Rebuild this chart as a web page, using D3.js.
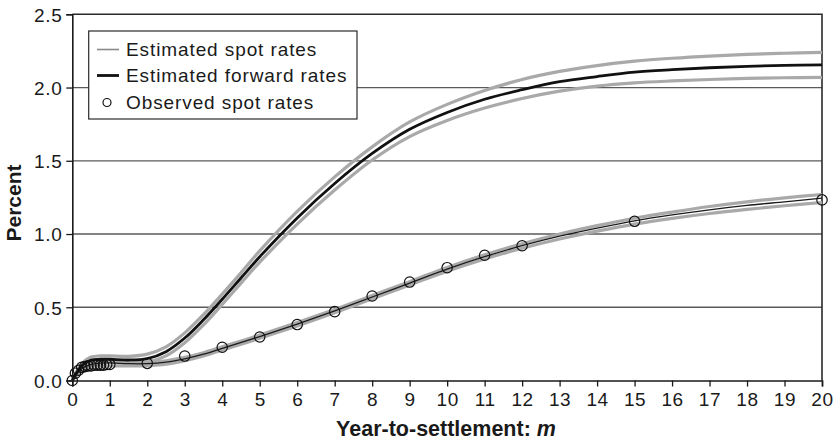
<!DOCTYPE html>
<html>
<head>
<meta charset="utf-8">
<script src="https://cdn.jsdelivr.net/npm/d3@7"></script>
<style>
    body { margin: 0; background: #fff; }
    svg text { font-family: "Liberation Sans", Arial, sans-serif; fill: #1a1a1a; }
</style>
</head>
<body>
<div id="chart"></div>
<script>
// Spot and forward rate curves

var xTicks = [0,1,2,3,4,5,6,7,8,9,10,11,12,13,14,15,16,17,18,19,20];
var yTicks = [0, 0.5, 1.0, 1.5, 2.0, 2.5];

// estimated spot rates with band
var spotYears = [0,0.25,0.5,0.75,1,1.5,2,2.5,3,3.5,4,5,6,7,8,9,10,11,12,13,14,15,16,17,18,19,20];
var spotRates = [0,0.08,0.11,0.118,0.12,0.115,0.115,0.125,0.148,0.18,0.22,0.3,0.385,0.475,0.57,0.665,0.76,0.845,0.92,0.985,1.04,1.09,1.13,1.165,1.195,1.22,1.245];
var spotUpper = [0,0.095,0.13,0.14,0.14,0.13,0.125,0.135,0.158,0.19,0.23,0.31,0.395,0.485,0.58,0.675,0.772,0.858,0.934,1.0,1.057,1.108,1.15,1.188,1.22,1.247,1.27];
var spotLower = [0,0.065,0.095,0.1,0.1,0.1,0.102,0.112,0.136,0.168,0.208,0.288,0.373,0.463,0.558,0.652,0.746,0.83,0.903,0.966,1.02,1.068,1.107,1.14,1.168,1.193,1.215];

// estimated forward rates with band
var fwdYears = [0,0.25,0.5,0.75,1,1.5,2,2.5,3,3.5,4,4.5,5,6,7,8,9,10,11,12,13,14,15,16,17,18,19,20];
var fwdRates = [0,0.1,0.14,0.145,0.145,0.14,0.15,0.197,0.29,0.415,0.555,0.7,0.845,1.11,1.345,1.55,1.715,1.83,1.92,1.985,2.04,2.075,2.105,2.122,2.135,2.145,2.151,2.155];
var fwdUpper = [0,0.115,0.16,0.168,0.168,0.165,0.18,0.23,0.325,0.45,0.59,0.735,0.885,1.155,1.39,1.595,1.765,1.885,1.98,2.055,2.11,2.15,2.18,2.2,2.215,2.226,2.234,2.24];
var fwdLower = [0,0.085,0.12,0.125,0.125,0.12,0.125,0.168,0.258,0.38,0.52,0.665,0.808,1.068,1.3,1.505,1.665,1.775,1.86,1.925,1.975,2.01,2.032,2.045,2.055,2.062,2.067,2.07];

// observed spot rates
var obsYears = [0,0.083,0.167,0.25,0.333,0.417,0.5,0.583,0.667,0.75,0.833,0.917,1,2,3,4,5,6,7,8,9,10,11,12,15,20];
var obsRates = [0,0.05,0.07,0.09,0.095,0.1,0.1,0.105,0.105,0.105,0.105,0.11,0.11,0.117,0.167,0.227,0.297,0.382,0.47,0.577,0.672,0.77,0.855,0.92,1.087,1.233];

var legendLabels = ["Estimated spot rates", "Estimated forward rates", "Observed spot rates"];

var width = 835, height = 444;
var plotLeft = 72.3, plotRight = 822, plotTop = 14.3, plotBottom = 380.5;

var svg = d3.select("#chart")
    .append("svg")
    .attr("width", width)
    .attr("height", height);

var x = d3.scaleLinear().domain([0, 20]).range([plotLeft, plotRight]);
var y = d3.scaleLinear().domain([0, 2.5]).range([plotBottom, plotTop]);

// grid lines
svg.append("g")
    .selectAll("line")
    .data(yTicks.filter(d => d > 0 && d < 2.5))
    .enter()
    .append("line")
    .attr("x1", plotLeft)
    .attr("x2", plotRight)
    .attr("y1", d => y(d))
    .attr("y2", d => y(d))
    .attr("stroke", "#5a5a5a")
    .attr("stroke-width", 1.3);

// frame top / right
svg.append("path")
    .attr("d", `M${plotLeft},${plotTop}H${plotRight}V${plotBottom}`)
    .attr("fill", "none")
    .attr("stroke", "#2a2a2a")
    .attr("stroke-width", 1.6);

function makeLine(xs, ys){
    return d3.line()
        .x((d, i) => x(xs[i]))
        .y(d => y(d))
        .curve(d3.curveCatmullRom.alpha(0.5))(ys);
}

var curves = svg.append("g");

// bands (grey)
[[fwdYears, fwdUpper], [fwdYears, fwdLower], [spotYears, spotUpper], [spotYears, spotLower]].forEach(c => {
    curves.append("path")
        .attr("d", makeLine(c[0], c[1]))
        .attr("fill", "none")
        .attr("stroke", "#a9a9a9")
        .attr("stroke-width", 3.2);
});

// estimates
curves.append("path")
    .attr("d", makeLine(spotYears, spotRates))
    .attr("fill", "none")
    .attr("stroke", "#1a1a1a")
    .attr("stroke-width", 1.3);

curves.append("path")
    .attr("d", makeLine(fwdYears, fwdRates))
    .attr("fill", "none")
    .attr("stroke", "#111")
    .attr("stroke-width", 2.8);

// observed
svg.append("g")
    .selectAll("circle")
    .data(obsRates)
    .enter()
    .append("circle")
    .attr("cx", (d, i) => x(obsYears[i]))
    .attr("cy", d => y(d))
    .attr("r", 5.2)
    .attr("fill", "none")
    .attr("stroke", "#111")
    .attr("stroke-width", 1.2);

// axes
var xAxis = svg.append("g")
    .attr("transform", `translate(0,${plotBottom})`)
    .call(d3.axisBottom(x).tickValues(xTicks).tickSize(6).tickPadding(5).tickFormat(d3.format("d")));

var yAxis = svg.append("g")
    .attr("transform", `translate(${plotLeft},0)`)
    .call(d3.axisLeft(y).tickValues(yTicks).tickSize(6).tickPadding(4).tickFormat(d3.format(".1f")));

[xAxis, yAxis].forEach(a => {
    a.select(".domain").attr("stroke", "#1a1a1a").attr("stroke-width", 1.6);
    a.selectAll(".tick line").attr("stroke", "#1a1a1a").attr("stroke-width", 1.3);
    a.selectAll("text")
        .style("font-size", "19px")
        .style("letter-spacing", "0.6px")
        .style("font-family", "'Liberation Sans', Arial, sans-serif")
        .attr("fill", "#1a1a1a");
});
yAxis.selectAll("text").attr("dy", "0.36em");
xAxis.selectAll("text").attr("dy", "0.74em");

// axis titles
var xTitle = svg.append("text")
    .attr("x", 446)
    .attr("y", 436)
    .attr("text-anchor", "middle")
    .style("font-size", "21.5px")
    .style("font-weight", "bold");
xTitle.append("tspan").text("Year-to-settlement: ");
xTitle.append("tspan").style("font-style", "italic").text("m");

svg.append("text")
    .attr("transform", "translate(21,203) rotate(-90)")
    .attr("text-anchor", "middle")
    .style("font-size", "21px")
    .style("font-weight", "bold")
    .text("Percent");

// legend
var legend = svg.append("g");

legend.append("rect")
    .attr("x", 88.7)
    .attr("y", 31)
    .attr("width", 268.3)
    .attr("height", 88)
    .attr("fill", "#fff")
    .attr("stroke", "#2a2a2a")
    .attr("stroke-width", 1.2);

legend.append("line")
    .attr("x1", 97).attr("x2", 119)
    .attr("y1", 49.5).attr("y2", 49.5)
    .attr("stroke", "#8a8a8a")
    .attr("stroke-width", 1.6);

legend.append("line")
    .attr("x1", 97).attr("x2", 119)
    .attr("y1", 75.5).attr("y2", 75.5)
    .attr("stroke", "#111")
    .attr("stroke-width", 2.8);

legend.append("circle")
    .attr("cx", 107)
    .attr("cy", 102.5)
    .attr("r", 4)
    .attr("fill", "none")
    .attr("stroke", "#111")
    .attr("stroke-width", 1.2);

legend.selectAll("text.lab")
    .data(legendLabels)
    .enter()
    .append("text")
    .attr("class", "lab")
    .attr("x", 126)
    .attr("y", (d, i) => 55.5 + i * 26.5)
    .style("font-size", "19px")
    .style("letter-spacing", "0.9px")
    .text(d => d);
</script>
</body>
</html>
